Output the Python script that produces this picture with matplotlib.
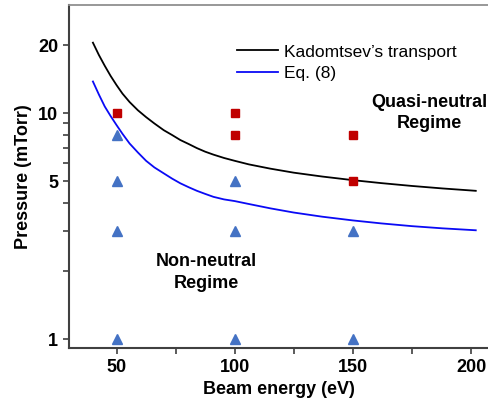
import matplotlib
matplotlib.use("Agg")
import matplotlib.pyplot as plt
from matplotlib.ticker import FixedLocator, NullFormatter

# curves
energy = [40, 42.5, 45, 47.5, 50, 52.5, 55.5, 59, 62.5, 66, 70, 73.5, 77, 80.5, 84, 87.5,
          91, 95.5, 100, 106, 115, 125, 137, 150, 162, 175, 188, 202]
kadomtsev = [20.5, 18.1, 16.2, 14.6, 13.3, 12.2, 11.2, 10.3, 9.6, 9.0, 8.4, 8.0, 7.6, 7.3, 7.0, 6.75,
             6.55, 6.33, 6.15, 5.93, 5.68, 5.45, 5.24, 5.05, 4.9, 4.76, 4.64, 4.53]
eq8 = [13.8, 12.1, 10.7, 9.7, 8.85, 8.1, 7.34, 6.7, 6.15, 5.75, 5.41, 5.13, 4.89, 4.7, 4.53, 4.39,
       4.26, 4.15, 4.08, 3.96, 3.79, 3.63, 3.48, 3.35, 3.25, 3.16, 3.09, 3.03]

# measured points
quasi_x = [50, 100, 100, 150, 150]
quasi_p = [10, 10, 8, 8, 5]
non_x = [50, 50, 50, 50, 100, 100, 100, 150, 150]
non_p = [8, 5, 3, 1, 5, 3, 1, 3, 1]

y_major = [1, 5, 10, 20]
y_minor = [2, 3, 4, 6, 7, 8, 9]
x_major = [50, 100, 150, 200]
x_minor = [75, 125, 175]

plt.rcParams['font.family'] = 'Liberation Sans'

fig = plt.figure(figsize=(4.89, 4.09), dpi=100)
ax = fig.add_axes([0.1417, 0.1484, 0.8583, 0.8386])

ax.plot(energy, kadomtsev, color='black', lw=1.3, label='Kadomtsev\u2019s transport')
ax.plot(energy, eq8, color='#0a0af5', lw=1.3, label='Eq. (8)')
ax.plot(quasi_x, quasi_p, 's', color='#c00000', ms=6, ls='none')
ax.plot(non_x, non_p, '^', color='#4472c4', ms=6.5, ls='none')

ax.set_yscale('log')
ax.set_xlim(30, 207.6)
ax.set_ylim(0.91, 30)

ax.yaxis.set_major_locator(FixedLocator(y_major))
ax.yaxis.set_minor_locator(FixedLocator(y_minor))
ax.set_yticklabels([str(v) for v in y_major])
ax.yaxis.set_minor_formatter(NullFormatter())
ax.xaxis.set_major_locator(FixedLocator(x_major))
ax.xaxis.set_minor_locator(FixedLocator(x_minor))

for lab in ax.get_xticklabels() + ax.get_yticklabels():
    lab.set_fontweight('bold')
    lab.set_fontsize(13)
ax.tick_params(which='both', direction='out', length=4, width=1.2, color='#404040', pad=4)

ax.spines['right'].set_visible(False)
ax.spines['top'].set_color('#909090')
ax.spines['top'].set_linewidth(1.3)
for s in ['left', 'bottom']:
    ax.spines[s].set_color('#404040')
    ax.spines[s].set_linewidth(1.5)

ax.set_xlabel('Beam energy (eV)', fontsize=13, fontweight='bold', labelpad=3)
ax.set_ylabel('Pressure (mTorr)', fontsize=13, fontweight='bold', labelpad=4)

ax.legend(loc='upper left', bbox_to_anchor=(0.40, 0.886), frameon=False, fontsize=12.5,
          handlelength=2.35, handletextpad=0.35, labelspacing=0.35, borderpad=0,
          borderaxespad=0)

ax.text(182.5, 10.0, 'Quasi-neutral\nRegime', fontsize=13, fontweight='bold',
        ha='center', va='center', linespacing=1.35)
ax.text(88, 1.97, 'Non-neutral\nRegime', fontsize=13, fontweight='bold',
        ha='center', va='center', linespacing=1.35)

fig.savefig('out.png', dpi=100)
